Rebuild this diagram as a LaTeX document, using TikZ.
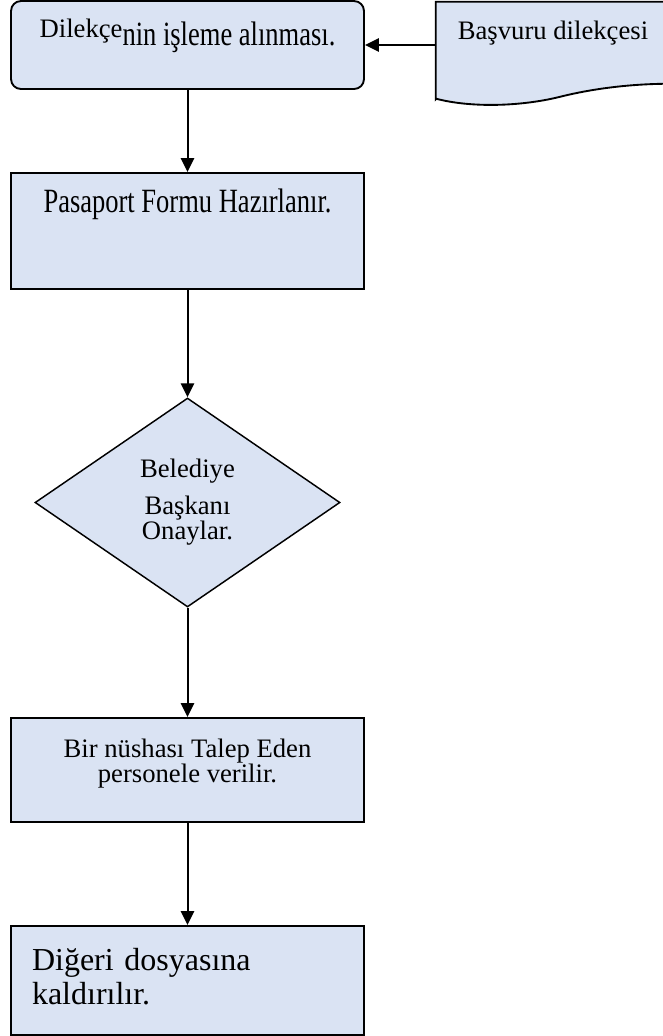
\documentclass[tikz,border=0pt]{standalone}
\usepackage{fontspec}
\setmainfont{Liberation Serif}
\newfontfamily\tallserif[FakeStretch=0.78]{Liberation Serif}
\usepackage{tikz}
\usetikzlibrary{arrows.meta,shapes.geometric,backgrounds}
\definecolor{boxfill}{RGB}{218,227,243}
\newcommand\tightlines{\lineskiplimit=-50pt\relax}

\begin{document}
\begin{tikzpicture}[x=0.75pt, y=-0.75pt,
    box/.style={rectangle, draw=black, line width=1.4pt, fill=boxfill,
        minimum width=264.75pt, inner ysep=0pt, align=center,
        font=\fontsize{20}{24}\selectfont},
    arr/.style={line width=1.5pt, -{Triangle[length=10.5pt, width=10pt]}}]
\useasboundingbox (0,0) rectangle (663,1036);

\node[box, rounded corners=7.5pt, text height=33pt, text depth=33pt] (basla) at (187.5,45)
    {\raisebox{6pt}{Dilekçe}{\tallserif\fontsize{25.5}{30}\selectfont nin işleme alınması.}};
\node[rectangle, minimum width=175.5pt, text height=27.75pt, text depth=45pt,
    inner ysep=0pt, font=\fontsize{20}{24}\selectfont] (doc) at (553,50.5) {Başvuru dilekçesi};
\begin{scope}[on background layer]
\draw[line width=1.4pt, fill=boxfill] (doc.south west) -- (doc.north west) -- (doc.north east)
    -- ++(0,82) .. controls +(-30,0) and +(40,-10) .. ++(-110,13)
    .. controls +(-40,10) and +(34,9) .. ++(-124,2) -- cycle;
\end{scope}
\node[box, text height=29.25pt, text depth=57.75pt] (form) at (187.5,231)
    {\tallserif\fontsize{25.5}{30}\selectfont Pasaport Formu Hazırlanır.};
\node[draw=black, diamond, line width=1.1pt, fill=boxfill, aspect=1.46, inner sep=0pt,
    minimum width=228.75pt, minimum height=156.75pt, align=center,
    font=\fontsize{20}{17}\selectfont] (onay) at (187.5,502.5) {Belediye\\[8pt]Başkanı\\Onaylar.};
\node[box, text height=48pt, text depth=30pt,
    font=\fontsize{20}{18.5}\selectfont\tightlines] (nusha) at (187.5,770)
    {Bir nüshası Talep Eden\\personele verilir.};
\node[box, align=left, text width=233.25pt, inner xsep=15.75pt, text height=33pt, text depth=48.75pt,
    font=\fontsize{24}{25.5}\selectfont] (dosya) at (187.5,980.5)
    {Diğeri dosyasına\\kaldırılır.};

\draw[arr] (doc.west |- basla.east) -- (basla.east);
\draw[arr] (basla) -- (form);
\draw[arr] (form) -- (onay);
\draw[arr] (onay) -- (nusha);
\draw[arr] (nusha) -- (dosya);
\end{tikzpicture}
\end{document}
